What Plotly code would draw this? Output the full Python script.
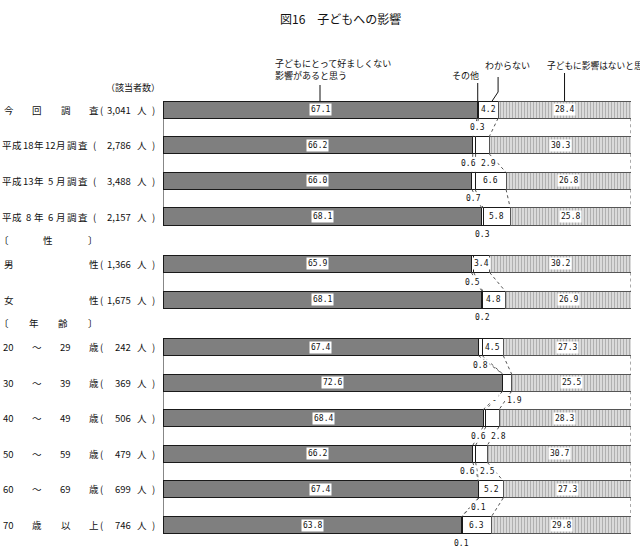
import re
import numpy as np
import plotly.graph_objects as go

# ---------------- data ----------------
title = "図16　子どもへの影響"
series_names = ["子どもにとって好ましくない<br>影響があると思う", "その他", "わからない", "子どもに影響はないと思う"]
count_header = "（該当者数）"
row_labels = ["今回調査", "平成18年12月調査", "平成13年5月調査", "平成8年6月調査",
              "男性", "女性",
              "20～29歳", "30～39歳", "40～49歳", "50～59歳", "60～69歳", "70歳以上"]
row_counts = ["3,041", "2,786", "3,488", "2,157", "1,366", "1,675",
              "242", "369", "506", "479", "699", "746"]
row_groups = [0, 0, 0, 0, 1, 1, 2, 2, 2, 2, 2, 2]
group_headers = [None, ["〔", "性", "〕"], ["〔", "年", "齢", "〕"]]
harmful = [67.1, 66.2, 66.0, 68.1, 65.9, 68.1, 67.4, 72.6, 68.4, 66.2, 67.4, 63.8]
other = [0.3, 0.6, 0.7, 0.3, 0.5, 0.2, 0.8, 0.0, 0.6, 0.6, 0.1, 0.1]
unknown = [4.2, 2.9, 6.6, 5.8, 3.4, 4.8, 4.5, 1.9, 2.8, 2.5, 5.2, 6.3]
no_effect = [28.4, 30.3, 26.8, 25.8, 30.2, 26.9, 27.3, 25.5, 28.3, 30.7, 27.3, 29.8]

# ---------------- layout helpers ----------------
W, H = 640, 547
L, R = 163, 9
PW = W - L - R
Y0, DY = 109.7, 35.6          # pixel of first row centre, pixels per row
BW = 0.48                     # bar thickness (rows)
JP = "Noto Sans CJK JP"
NUM = "DejaVu Sans Mono"


def py(p):      # pixel y -> y data
    return (p - Y0) / DY


def px(p):      # pixel x -> paper x
    return (p - L) / PW


pos = [i + g / 3.0 for i, g in enumerate(row_groups)]
n = len(pos)

fig = go.Figure()
fig.add_trace(go.Bar(y=pos, x=harmful, orientation="h", width=BW, name="harmful",
                     marker=dict(color="#7f7f7f", line=dict(color="#1a1a1a", width=1))))
fig.add_trace(go.Bar(y=pos, x=other, orientation="h", width=BW, name="other",
                     marker=dict(color="#ffffff", line=dict(color="#1a1a1a", width=1))))
fig.add_trace(go.Bar(y=pos, x=unknown, orientation="h", width=BW, name="unknown",
                     marker=dict(color="#ffffff", line=dict(color="#1a1a1a", width=1))))
fig.add_trace(go.Bar(y=pos, x=no_effect, orientation="h", width=BW, name="none",
                     marker=dict(color="#dedede", line=dict(color="#555555", width=1),
                                 pattern=dict(shape="|", fgcolor="#7e7e7e", bgcolor="#e2e2e2",
                                              size=3, solidity=0.45))))

# series lines between consecutive bars in the same group
bounds = []
for i in range(n):
    c1 = harmful[i]
    c2 = c1 + other[i]
    c3 = c2 + unknown[i]
    bounds.append([0.0, c1, c2, c3, 100.0])
sx, sy, dx, dy = [], [], [], []
for i in range(n - 1):
    if row_groups[i] != row_groups[i + 1]:
        continue
    for k in range(5):
        xs = [bounds[i][k], bounds[i + 1][k], None]
        ys = [pos[i] + BW / 2, pos[i + 1] - BW / 2, None]
        if k == 0:
            sx += xs; sy += ys
        else:
            dx += xs; dy += ys
fig.add_trace(go.Scatter(x=sx, y=sy, mode="lines", line=dict(color="#111111", width=1),
                         hoverinfo="skip"))
fig.add_trace(go.Scatter(x=dx, y=dy, mode="lines", line=dict(color="#555555", width=1, dash="dot"),
                         hoverinfo="skip"))

ann = []


def num_label(x, y, text, **kw):
    d = dict(x=x, y=y, xref="x", yref="y", text=text, showarrow=False,
             font=dict(family=NUM, size=8, color="#111111"), bgcolor="#ffffff", borderpad=1)
    d.update(kw)
    ann.append(d)


for i in range(n):
    p = pos[i]
    num_label(harmful[i] / 2, p, f"{harmful[i]:.1f}")
    num_label(100 - no_effect[i] / 2, p, f"{no_effect[i]:.1f}")
    oc = harmful[i] + other[i] / 2
    uc = harmful[i] + other[i] + unknown[i] / 2
    otext = "-" if other[i] == 0 else f"{other[i]:.1f}"
    below_y = p + BW / 2
    if unknown[i] >= 3:
        num_label(uc, p, f"{unknown[i]:.1f}")
        num_label(oc, below_y, otext, yanchor="top", yshift=-3)
    else:
        mid = (oc + uc) / 2
        num_label(mid, below_y, otext, yanchor="top", yshift=-3, xshift=-10)
        num_label(mid, below_y, f"{unknown[i]:.1f}", yanchor="top", yshift=-3, xshift=10)


def txt(xpix, y, text, size=9.5, xanchor="center", yref="y", **kw):
    d = dict(x=px(xpix), y=y, xref="paper", yref=yref, text=text, showarrow=False,
             xanchor=xanchor, font=dict(family=JP, size=size, color="#111111"))
    d.update(kw)
    ann.append(d)


# left row labels (justified tokens)
for i in range(n):
    toks = re.findall(r"\d+|.", row_labels[i])
    if len(toks) >= 6:
        cx = np.linspace(6.5, 83, len(toks))
        paren = 94
    else:
        cx = np.linspace(8.5, 94, len(toks)) if len(toks) > 1 else [8.5]
        paren = 101.5
    for t, c in zip(toks, cx):
        txt(c, pos[i], t)
    txt(paren, pos[i], "(")
    txt(133, pos[i], row_counts[i], xanchor="right")
    txt(142, pos[i], "人")
    txt(153, pos[i], ")")

# group headers
for g, toks in enumerate(group_headers):
    if not toks:
        continue
    first = pos[row_groups.index(g)]
    hy = first - 2 / 3.0
    cx = np.linspace(4, 92.5, len(toks))
    for t, c in zip(toks, cx):
        txt(c, hy, t)

# title & legend texts
txt(340, py(18), title, size=12)
txt(104, py(87), count_header, size=9, xanchor="left")
txt(273, py(69), series_names[0], size=9, xanchor="left", align="left")
txt(465, py(75), series_names[1], size=9)
txt(483, py(65), series_names[2], size=9, xanchor="left")
txt(545, py(65), series_names[3], size=8.7, xanchor="left")

# leader lines from legend texts to first bar
top = pos[0] - BW / 2
c0 = harmful[0] / 2
c1 = harmful[0] + other[0] / 2
c2 = harmful[0] + other[0] + unknown[0] / 2
c3 = 100 - no_effect[0] / 2
shapes = [
    dict(type="line", xref="x", yref="y", x0=c0, x1=c0, y0=py(85), y1=top),
    dict(type="line", xref="x", yref="y", x0=c1, x1=c1, y0=py(83), y1=top),
    dict(type="path", xref="x", yref="y",
         path=f"M {c2 + 0.8},{top} L {c2 + 2.1},{py(92)} L {c2 + 2.1},{py(77)}"),
    dict(type="line", xref="x", yref="y", x0=c3, x1=c3, y0=py(73), y1=top),
]
for s in shapes:
    s["line"] = dict(color="#111111", width=1)

fig.update_layout(
    width=W, height=H, barmode="stack", showlegend=False,
    margin=dict(l=L, r=R, t=0, b=0),
    plot_bgcolor="#ffffff", paper_bgcolor="#ffffff",
    xaxis=dict(range=[0, 100], visible=False, fixedrange=True),
    yaxis=dict(range=[py(H), py(0)], visible=False, fixedrange=True),
    annotations=ann, shapes=shapes,
)
fig.write_html("out.html", config={"displayModeBar": False},
               post_script="document.body.style.margin='0';document.body.style.overflow='hidden';")
